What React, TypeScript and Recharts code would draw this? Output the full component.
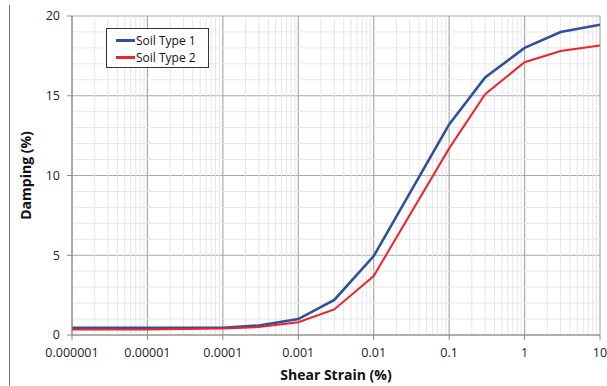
import React from "react";
import {
  CartesianGrid,
  Line,
  LineChart,
  ReferenceLine,
  XAxis,
  YAxis,
} from "recharts";

const strains = [0.000001, 0.00001, 0.0001, 0.0003, 0.001, 0.003, 0.01, 0.1, 0.3, 1, 3, 10];
const soilType1 = [0.45, 0.45, 0.45, 0.6, 1.0, 2.2, 4.95, 13.2, 16.15, 18.0, 19.0, 19.45];
const soilType2 = [0.35, 0.35, 0.4, 0.5, 0.8, 1.6, 3.7, 11.7, 15.1, 17.1, 17.8, 18.15];

const xTicks = [0.000001, 0.00001, 0.0001, 0.001, 0.01, 0.1, 1, 10];
const xTickLabels = ["0.000001", "0.00001", "0.0001", "0.001", "0.01", "0.1", "1", "10"];
const yTicks = [0, 5, 10, 15, 20];

// light minor grid: 2..9 in each decade, every 1% on y
const xMinor = xTicks.slice(0, -1).flatMap((d) => [2, 3, 4, 5, 6, 7, 8, 9].map((m) => m * d));
const yMinor = Array.from({ length: 21 }, (_, i) => i).filter((v) => v % 5 !== 0);

const series = [
  { key: "soil1", name: "Soil Type 1", color: "#2f4f9f", width: 2.6 },
  { key: "soil2", name: "Soil Type 2", color: "#f0232b", width: 2 },
];

const data = strains.map((s, i) => ({
  strain: s,
  soil1: soilType1[i],
  soil2: soilType2[i],
}));

const font = "'Open Sans', sans-serif";

const App: React.FC = () => {
  return (
    <div style={{ position: "absolute", left: 0, top: 0, width: 607, height: 386, background: "#fff" }}>
      <div style={{ position: "absolute", left: 9, top: 5, width: 1, height: 381, background: "#777" }} />
      <LineChart
        width={607}
        height={386}
        data={data}
        margin={{ top: 16, right: 7, left: 0, bottom: 0 }}
      >
        {xMinor.map((v) => (
          <ReferenceLine key={"x" + v} x={v} stroke="#e6e6e6" strokeWidth={1} ifOverflow="hidden" />
        ))}
        {yMinor.map((v) => (
          <ReferenceLine key={"y" + v} y={v} stroke="#e6e6e6" strokeWidth={1} />
        ))}
        <CartesianGrid stroke="#a8a8a8" strokeWidth={1.2} />
        <XAxis
          dataKey="strain"
          type="number"
          scale="log"
          domain={[0.000001, 10]}
          ticks={xTicks}
          tickFormatter={(v) => xTickLabels[xTicks.indexOf(v)] ?? String(v)}
          allowDataOverflow
          height={51}
          stroke="#888"
          tickLine={{ stroke: "#888" }}
          tickSize={5}
          tickMargin={8}
          tick={{ fill: "#222", fontSize: 12.5, fontFamily: font }}
          label={{
            value: "Shear Strain (%)",
            position: "insideBottom",
            offset: 6,
            style: { fill: "#111", fontSize: 14, fontWeight: 700, fontFamily: font },
          }}
        />
        <YAxis
          type="number"
          domain={[0, 20]}
          ticks={yTicks}
          width={72}
          stroke="#888"
          tickSize={5}
          tickMargin={7}
          tick={{ fill: "#222", fontSize: 12.5, fontFamily: font }}
          label={{
            value: "Damping (%)",
            angle: -90,
            position: "insideLeft",
            offset: 26,
            style: { fill: "#111", fontSize: 14, fontWeight: 700, fontFamily: font, textAnchor: "middle" },
          }}
        />
        {series.map((s) => (
          <Line
            key={s.key}
            name={s.name}
            dataKey={s.key}
            stroke={s.color}
            strokeWidth={s.width}
            dot={false}
            type="linear"
            isAnimationActive={false}
          />
        ))}
      </LineChart>
      <div
        style={{
          position: "absolute",
          left: 106,
          top: 28,
          width: 103,
          height: 40,
          border: "1px solid #333",
          background: "#fff",
          boxSizing: "border-box",
          padding: "3px 0 0 9px",
          fontFamily: font,
          fontSize: 12,
          color: "#111",
        }}
      >
        {series.map((s) => (
          <div key={s.key} style={{ display: "flex", alignItems: "center", height: 17 }}>
            <span style={{ display: "inline-block", width: 19, height: 3, background: s.color, marginRight: 1 }} />
            <span>{s.name}</span>
          </div>
        ))}
      </div>
    </div>
  );
};

export default App;
